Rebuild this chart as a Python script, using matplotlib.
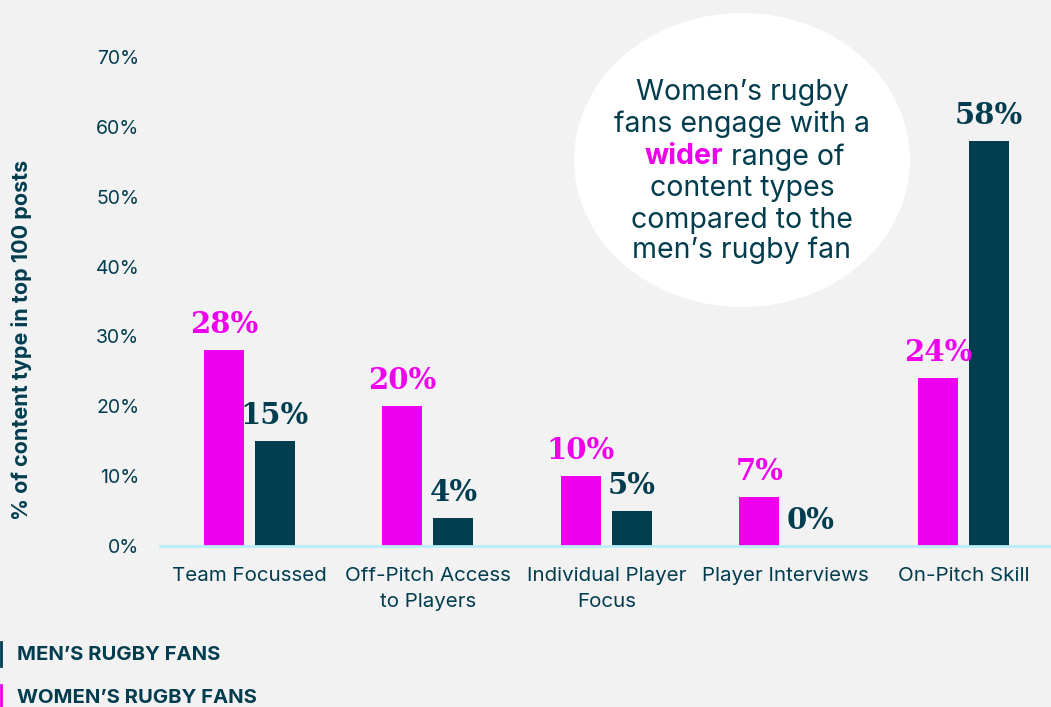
import matplotlib.pyplot as plt
import numpy as np
from matplotlib.patches import Ellipse
from matplotlib.lines import Line2D

categories = ["Team Focussed", "Off-Pitch Access\nto Players", "Individual Player\nFocus",
              "Player Interviews", "On-Pitch Skill"]
women = [28, 20, 10, 7, 24]
men = [15, 4, 5, 0, 58]
yticks = [0, 10, 20, 30, 40, 50, 60, 70]

PINK = "#EE00EE"
DARK = "#023D4F"
BG = "#F2F2F2"
SANS = "Inter"

fig = plt.figure(figsize=(10.51, 7.07), dpi=100, facecolor=BG)
W, H = 1051, 707
ax = fig.add_axes([160 / W, (707 - 546) / H, 891 / W, (546 - 57) / H])
ax.set_facecolor("none")

x = np.arange(len(categories))
bw = 0.224
off = 0.143
ax.bar(x - off, women, bw, color=PINK, zorder=2)
ax.bar(x + off, men, bw, color=DARK, zorder=2)

for xi, v in zip(x, women):
    ax.annotate(f"{v}%", (xi - off, v), xytext=(0, 8), textcoords="offset points",
                ha="center", va="bottom", color=PINK, fontsize=21,
                family="DejaVu Serif", fontweight="bold")
for xi, v in zip(x, men):
    ax.annotate(f"{v}%", (xi + off, v), xytext=(0, 8), textcoords="offset points",
                ha="center", va="bottom", color=DARK, fontsize=21,
                family="DejaVu Serif", fontweight="bold")

ax.set_xlim(-0.5, 4.49)
ax.set_ylim(0, 70)
ax.set_yticks(yticks)
ax.set_yticklabels([f"{t}%" for t in yticks], family=SANS, fontsize=14, color=DARK)
ax.set_xticks(x)
ax.set_xticklabels(categories, family=SANS, fontsize=14.8, color=DARK, linespacing=1.55)
ax.tick_params(axis="both", length=0)
ax.tick_params(axis="y", pad=15)
ax.tick_params(axis="x", pad=15)
for s in ["top", "right", "left"]:
    ax.spines[s].set_visible(False)
ax.spines["bottom"].set_color("#B8EEF8")
ax.spines["bottom"].set_linewidth(2)

fig.text(22 / W, 1 - 340 / H, "% of content type in top 100 posts", rotation=90,
         ha="center", va="center", family=SANS, fontsize=15.5, fontweight="bold", color=DARK)

# callout bubble
fig.patches.append(Ellipse((742 / W, 1 - 160 / H), 336 / W, 294 / H,
                           transform=fig.transFigure, facecolor="white", edgecolor="none"))
lines = ["Women\u2019s rugby", "fans engage with a", None, "content types",
         "compared to the", "men\u2019s rugby fan"]
ys = [92, 124, 157, 189, 220, 250]
for txt, yy in zip(lines, ys):
    if txt is None:
        fig.text(723 / W, 1 - yy / H, "wider", ha="right", va="center", family=SANS,
                 fontsize=20.5, fontweight="bold", color=PINK)
        fig.text(731 / W, 1 - yy / H, "range of", ha="left", va="center", family=SANS,
                 fontsize=20.5, color=DARK)
    else:
        fig.text(742 / W, 1 - yy / H, txt, ha="center", va="center", family=SANS,
                 fontsize=20.5, color=DARK)

# legend
for yy, col, lab in [(654, DARK, "MEN\u2019S RUGBY FANS"), (697, PINK, "WOMEN\u2019S RUGBY FANS")]:
    fig.add_artist(Line2D([1 / W, 1 / W], [1 - (yy - 12) / H, 1 - (yy + 12) / H],
                          transform=fig.transFigure, color=col, lw=2))
    fig.text(17 / W, 1 - (yy + 1) / H, lab, ha="left", va="center", family=SANS,
             fontsize=14.6, fontweight="bold", color=DARK)

fig.savefig("out.png", dpi=100, facecolor=BG)
